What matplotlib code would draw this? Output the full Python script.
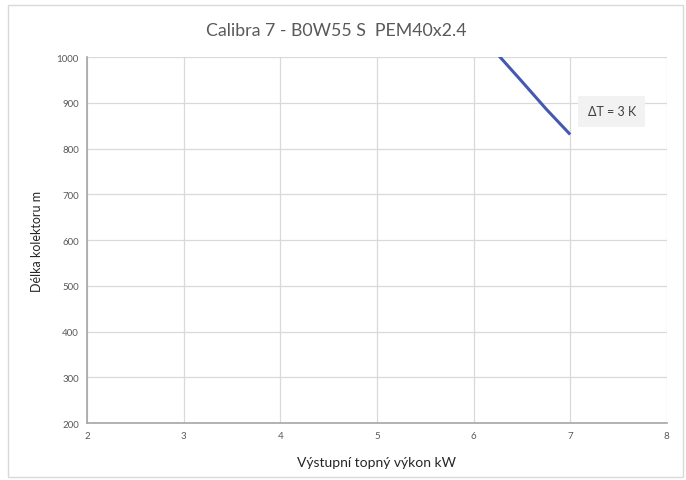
import matplotlib
matplotlib.use("Agg")
import matplotlib.pyplot as plt
from matplotlib.patches import Rectangle

# data
vykon_kw = [6.25, 6.5, 6.75, 7.0]
delka_m = [1006, 947, 887, 831]
x_ticks = [2, 3, 4, 5, 6, 7, 8]
y_ticks = [200, 300, 400, 500, 600, 700, 800, 900, 1000]

plt.rcParams['font.family'] = ['Lato', 'DejaVu Sans']

fig = plt.figure(figsize=(6.86, 4.81), dpi=100)
ax = fig.add_axes([0.127, 0.1185, 0.845, 0.7605])

ax.plot(vykon_kw, delka_m, color='#4659b0', lw=2.2, solid_capstyle='butt',
        solid_joinstyle='round')

ax.set_xlim(2, 8)
ax.set_ylim(200, 1000)
ax.set_xticks(x_ticks)
ax.set_yticks(y_ticks)
ax.grid(True, color='#d9d9d9', lw=0.9)
ax.set_axisbelow(True)
ax.tick_params(length=0, labelsize=7, colors='#595959', pad=6)

for s in ['top', 'right']:
    ax.spines[s].set_visible(False)
for s in ['left', 'bottom']:
    ax.spines[s].set_color('#a6a6a6')
    ax.spines[s].set_linewidth(1.2)

# title sits on the figure centre, not the axes centre
fig.text(0.49, 0.935, 'Calibra 7 - B0W55 S  PEM40x2.4', fontsize=12.8,
         color='#595959', ha='center', va='center')
ax.set_xlabel('Výstupní topný výkon kW', fontsize=10, color='#262626', labelpad=11)
ax.set_ylabel('Délka kolektoru m', fontsize=9, color='#262626', labelpad=10)

ax.text(7.43, 882, 'ΔT = 3 K', fontsize=9, color='#404040', ha='center', va='center',
        bbox=dict(boxstyle='square,pad=0.75', fc='#f2f2f2', ec='none'))

# outer chart frame
fig.patches.append(Rectangle((0.012, 0.006), 0.984, 0.982, transform=fig.transFigure,
                             fill=False, ec='#d9d9d9', lw=1))

fig.savefig('out.png', dpi=100)
